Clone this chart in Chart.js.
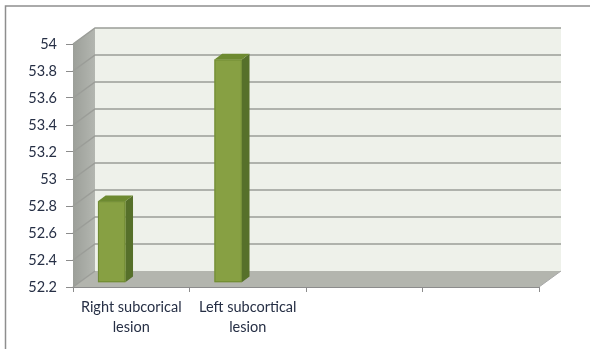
<!DOCTYPE html>
<html>
<head>
<meta charset="utf-8">
<script src="https://cdn.jsdelivr.net/npm/chart.js@4.4.0/dist/chart.umd.min.js"></script>
<style>
  body { margin: 0; background: #fff; }
  #wrap { width: 590px; height: 349px; position: relative; }
</style>
</head>
<body>
<div id="wrap"><canvas id="chart"></canvas></div>
<script>
const categories = [['Right subcorical', 'lesion'], ['Left subcortical', 'lesion'], '', ''];
const values = [52.8, 53.85, null, null];
const yTicks = [52.2, 52.4, 52.6, 52.8, 53, 53.2, 53.4, 53.6, 53.8, 54];

// depth of the 3d box
const DX = 22, DY = -16;
// bar sits inside the box, front face at this depth, bar depth
const BAR_FRONT = 0.3, BAR_DEPTH = 0.35;

const textColor = '#262f45';

function poly(ctx, pts, fill, stroke) {
    ctx.beginPath();
    ctx.moveTo(pts[0][0], pts[0][1]);
    for (let i = 1; i < pts.length; i++) ctx.lineTo(pts[i][0], pts[i][1]);
    ctx.closePath();
    if (fill) { ctx.fillStyle = fill; ctx.fill(); }
    if (stroke) { ctx.strokeStyle = stroke; ctx.lineWidth = 1; ctx.stroke(); }
}

const box3d = {
    id: 'box3d',
    beforeDraw(chart) {
        const ctx = chart.ctx;
        // outer frame (left and top)
        ctx.save();
        ctx.strokeStyle = '#8e8e8e';
        ctx.lineWidth = 1.5;
        ctx.beginPath();
        ctx.moveTo(5.5, 349);
        ctx.lineTo(5.5, 6);
        ctx.lineTo(590, 6);
        ctx.stroke();
        ctx.restore();
    },
    beforeDatasetsDraw(chart) {
        const ctx = chart.ctx;
        const a = chart.chartArea;
        const y = chart.scales.y;
        ctx.save();
        // back wall
        ctx.fillStyle = '#eef1ea';
        ctx.fillRect(a.left + DX, a.top + DY, a.right - a.left, a.bottom - a.top);
        // left wall
        const g = ctx.createLinearGradient(a.left, 0, a.left + DX, 0);
        g.addColorStop(0, '#9c9f99');
        g.addColorStop(1, '#b3b6b0');
        poly(ctx, [[a.left, a.top], [a.left + DX, a.top + DY], [a.left + DX, a.bottom + DY], [a.left, a.bottom]], g);
        // floor
        poly(ctx, [[a.left, a.bottom], [a.right, a.bottom], [a.right + DX, a.bottom + DY], [a.left + DX, a.bottom + DY]], '#b3b5ae');
        // grid lines on back wall and left wall
        ctx.strokeStyle = '#9b9d98';
        ctx.lineWidth = 1.5;
        yTicks.forEach(function (v) {
            const py = y.getPixelForValue(v);
            ctx.beginPath();
            ctx.moveTo(a.left, py);
            ctx.lineTo(a.left + DX, py + DY);
            if (v !== yTicks[0]) ctx.lineTo(a.right + DX, py + DY);
            ctx.stroke();
        });
        ctx.restore();
    },
    afterDatasetsDraw(chart) {
        const ctx = chart.ctx;
        const a = chart.chartArea;
        const y = chart.scales.y;
        const meta = chart.getDatasetMeta(0);
        const catW = (a.right - a.left) / categories.length;
        const basePx = y.getPixelForValue(y.min);
        ctx.save();
        meta.data.forEach(function (el, i) {
            if (values[i] === null) return;
            const p = el.getProps(['x', 'y', 'width'], true);
            const fx = BAR_FRONT * DX, fy = BAR_FRONT * DY;
            const bx = BAR_DEPTH * DX, by = BAR_DEPTH * DY;
            const left = p.x - 0.225 * catW - p.width / 2 + fx;
            const right = left + p.width;
            const top = p.y + fy;
            const bottom = basePx + fy;
            // side
            poly(ctx, [[right, top], [right + bx, top + by], [right + bx, bottom + by], [right, bottom]], '#56702a');
            // top
            poly(ctx, [[left, top], [left + bx, top + by], [right + bx, top + by], [right, top]], '#6d8a30');
            // front
            ctx.fillStyle = '#87a043';
            ctx.fillRect(left, top, p.width, bottom - top);
            ctx.strokeStyle = '#6f8a33';
            ctx.lineWidth = 1;
            ctx.strokeRect(left + 0.5, top + 0.5, p.width - 1, bottom - top - 1);
        });
        // floor right edge
        ctx.strokeStyle = '#a8a8a8';
        ctx.beginPath();
        ctx.moveTo(a.right, a.bottom);
        ctx.lineTo(a.right + DX, a.bottom + DY);
        ctx.stroke();
        ctx.restore();
    }
};

new Chart(document.getElementById('chart'), {
    type: 'bar',
    data: {
        labels: categories,
        datasets: [{
            data: values,
            backgroundColor: 'rgba(0,0,0,0)',
            categoryPercentage: 1,
            barPercentage: 0.235
        }]
    },
    options: {
        responsive: true,
        maintainAspectRatio: false,
        animation: false,
        events: [],
        layout: { padding: { top: 44, right: 51, left: 0, bottom: 0 } },
        plugins: { legend: { display: false }, tooltip: { enabled: false } },
        scales: {
            x: {
                afterFit: function (s) { s.height = 62; },
                grid: { drawOnChartArea: false, tickLength: 5, color: '#8c8c8c', offset: true },
                border: { color: '#8c8c8c', width: 1 },
                ticks: {
                    color: textColor,
                    padding: 5,
                    maxRotation: 0,
                    autoSkip: false,
                    font: { family: 'Lato', size: 14.5, lineHeight: 1.4 }
                }
            },
            y: {
                min: 52.2,
                max: 54,
                afterFit: function (s) { s.width = 73; },
                afterBuildTicks: function (s) { s.ticks = yTicks.map(function (v) { return { value: v }; }); },
                grid: { drawOnChartArea: false, tickLength: 7, color: '#8c8c8c' },
                border: { color: '#8c8c8c', width: 1 },
                ticks: {
                    color: textColor,
                    padding: 9,
                    font: { family: 'Lato', size: 14.5 },
                    callback: function (v) { return String(v); }
                }
            }
        }
    },
    plugins: [box3d]
});
</script>
</body>
</html>
